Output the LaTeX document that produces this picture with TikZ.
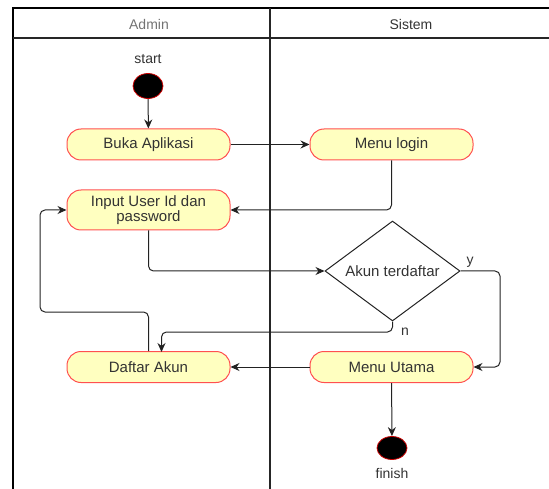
\documentclass[tikz,border=0pt]{standalone}
\usepackage{fontspec}
\setmainfont{Liberation Sans}
\usetikzlibrary{arrows.meta,shapes.geometric}
\definecolor{nodefill}{HTML}{FFFFC0}
\definecolor{nodeline}{HTML}{FF5050}
\definecolor{txt}{HTML}{333333}
\definecolor{ink}{HTML}{222222}
\tikzset{
  frame/.style={draw=black,line width=1.4pt},
  act/.style={draw=nodeline,fill=nodefill,line width=1pt,rounded corners=14pt,
    minimum width=163pt,minimum height=31pt,inner sep=0pt,align=center,
    text=txt,font=\fontsize{15}{15}\selectfont},
  dec/.style={draw=ink,diamond,aspect=1.35,minimum width=135pt,minimum height=100pt,
    inner sep=0pt,line width=1pt,text=txt,font=\fontsize{15}{15}\selectfont},
  dot/.style={ellipse,fill=black,draw=red!80!black,line width=0.8pt,minimum width=30pt,minimum height=25pt,inner sep=0pt},
  lbl/.style={text=txt,font=\fontsize{14}{14}\selectfont,inner sep=0pt},
  hdr/.style={font=\fontsize{14}{14}\selectfont,inner sep=0pt},
  flow/.style={draw=ink,line width=1pt,rounded corners=5pt,-{Stealth[length=9pt,width=8pt]}}
}
\begin{document}
\begin{tikzpicture}[x=1pt,y=-1pt]
\useasboundingbox (0,0) rectangle (549,489);
% swimlanes
\draw[frame] (13,489) -- (13,8) -- (549,8);
\draw[frame,line width=1.1pt,draw=black!85] (13,38) -- (549,38);
\draw[frame,draw=black!85] (270,8) -- (270,489);
\node[hdr,text=black!55] (hA) at (149,24) {Admin};
\node[hdr,text=txt] (hS) at (411,24) {Sistem};
% nodes
\node[lbl] (startlbl) at (148,59) {start};
\node[dot] (start) at (148,86) {};
\node[act] (buka) at (148.5,144.5) {Buka Aplikasi};
\node[act] (login) at (391.5,144.5) {Menu login};
\node[act,minimum height=40pt] (input) at (148.5,210) {Input User Id dan\\password};
\node[dec] (cek) at (392.5,271) {Akun terdaftar};
\node[act] (daftar) at (148.5,367) {Daftar Akun};
\node[act] (utama) at (391.5,367) {Menu Utama};
\node[dot,minimum height=23pt] (finish) at (392,448) {};
\node[lbl] (finishlbl) at (392,473) {finish};
\node[lbl] (ylbl) at (470,262) {y};
\node[lbl] (nlbl) at (405,332) {n};
% connectors
\draw[flow] (start) -- (buka);
\draw[flow] (buka) -- (login);
\draw[flow] (login.south) |- (input.east);
\draw[flow] (input.south) |- (cek.west);
\coordinate (yc) at (500,271);
\draw[flow] (cek.east) -- (yc) |- (utama.east);
\coordinate (nc) at (392.5,332);
\draw[flow] (cek.south) -- (nc) -| (161.5,352);
\draw[flow] (utama) -- (daftar);
\coordinate (lc) at (40,312);
\draw[flow] (daftar.north) |- (lc) |- (input.west);
\draw[flow] (utama) -- (finish);
\end{tikzpicture}
\end{document}
